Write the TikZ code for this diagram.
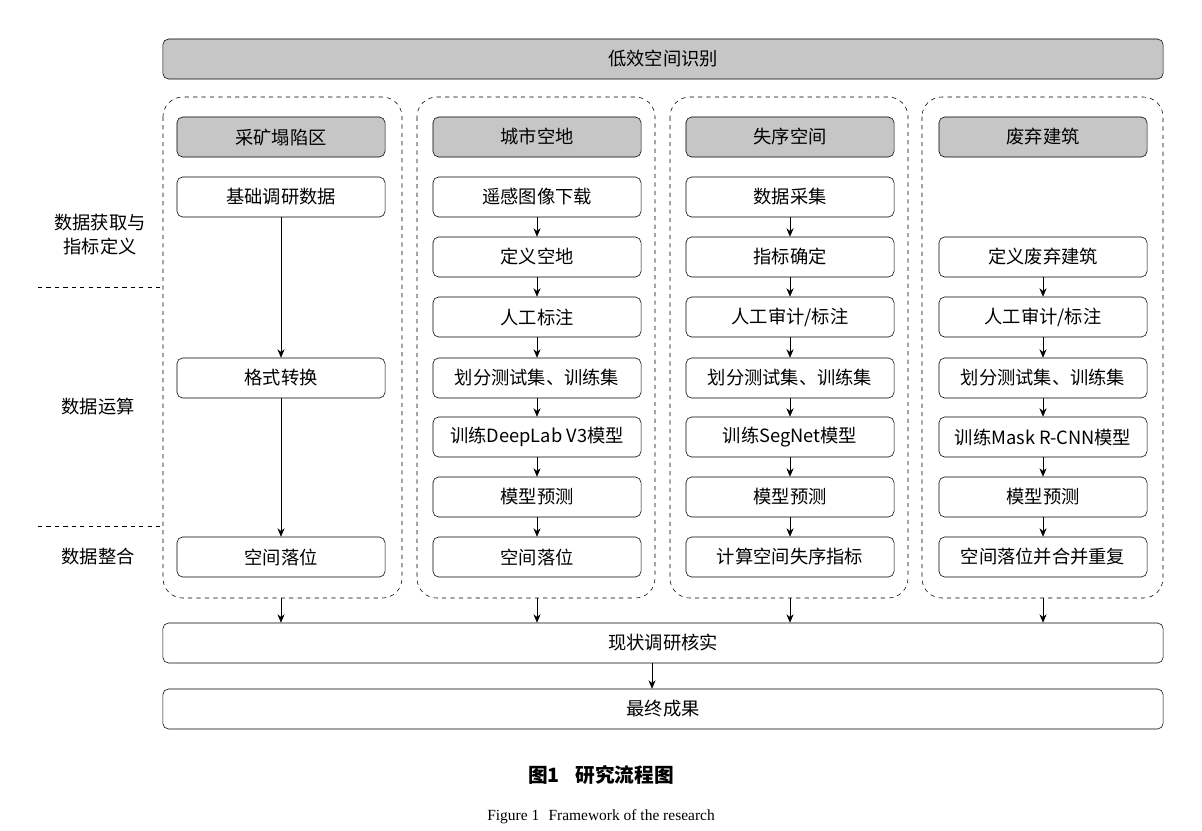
\documentclass[tikz,border=0pt]{standalone}
\usepackage{fontspec}
\setmainfont{Liberation Serif}
\newfontfamily\cjk{Noto Sans CJK SC}
\usetikzlibrary{arrows.meta}
\begin{document}
\begin{tikzpicture}
    [x=0.025cm, y=-0.025cm,
     box/.style={draw, rounded corners=4pt, minimum width=5.2cm, minimum height=1cm, inner sep=1pt, font=\cjk\fontsize{13}{15}\selectfont},
     head/.style={box, fill=gray!45},
     wide/.style={box, minimum width=25cm},
     col/.style={draw, dashed, rounded corners=14pt},
     side/.style={align=center, font=\cjk\fontsize{13}{17}\selectfont},
     arr/.style={-{Stealth[length=6pt,width=5pt]}}]
    \useasboundingbox (0,0) rectangle (1202,830);

    \node[wide, fill=gray!45] (top) at (663,59) {低效空间识别};

    % columns
    \draw[col] (163,97) rectangle (402,598);
    \draw[col] (417,97) rectangle (655,598);
    \draw[col] (670,97) rectangle (908,598);
    \draw[col] (922,97) rectangle (1163,598);
    \coordinate (c1) at (281,598);
    \coordinate (c2) at (537,598);
    \coordinate (c3) at (790,598);
    \coordinate (c4) at (1043,598);

    % column 1
    \node[head] (h1) at (281,137) {采矿塌陷区};
    \node[box] (a1) at (281,197) {基础调研数据};
    \node[box] (a2) at (281,378) {格式转换};
    \node[box] (a3) at (281,557) {空间落位};

    % column 2
    \node[head] (h2) at (537,137) {城市空地};
    \node[box] (b1) at (537,197) {遥感图像下载};
    \node[box] (b2) at (537,257) {定义空地};
    \node[box] (b3) at (537,317) {人工标注};
    \node[box] (b4) at (537,378) {划分测试集、训练集};
    \node[box] (b5) at (537,437) {训练DeepLab V3模型};
    \node[box] (b6) at (537,497) {模型预测};
    \node[box] (b7) at (537,557) {空间落位};

    % column 3
    \node[head] (h3) at (790,137) {失序空间};
    \node[box] (s1) at (790,197) {数据采集};
    \node[box] (s2) at (790,257) {指标确定};
    \node[box] (s3) at (790,317) {人工审计/标注};
    \node[box] (s4) at (790,378) {划分测试集、训练集};
    \node[box] (s5) at (790,437) {训练SegNet模型};
    \node[box] (s6) at (790,497) {模型预测};
    \node[box] (s7) at (790,557) {计算空间失序指标};

    % column 4
    \node[head] (h4) at (1043,137) {废弃建筑};
    \node[box] (d2) at (1043,257) {定义废弃建筑};
    \node[box] (d3) at (1043,317) {人工审计/标注};
    \node[box] (d4) at (1043,378) {划分测试集、训练集};
    \node[box] (d5) at (1043,437) {训练Mask R-CNN模型};
    \node[box] (d6) at (1043,497) {模型预测};
    \node[box] (d7) at (1043,557) {空间落位并合并重复};

    \node[wide] (chk) at (663,643) {现状调研核实};
    \node[wide] (res) at (663,709) {最终成果};

    % left labels
    \node[side] (l1) at (100,235) {数据获取与\\指标定义};
    \node[side] (l2) at (98,407) {数据运算};
    \node[side] (l3) at (98,557) {数据整合};
    \draw[dashed] (38,287) -- (163,287);
    \draw[dashed] (38,526) -- (163,526);

    % arrows
    \draw[arr] (a1) -- (a2);
    \draw[arr] (a2) -- (a3);
    \foreach \p in {b,s}{
      \foreach \i [evaluate=\i as \j using int(\i+1)] in {1,...,6}
        \draw[arr] (\p\i) -- (\p\j);
    }
    \foreach \i [evaluate=\i as \j using int(\i+1)] in {2,...,6}
      \draw[arr] (d\i) -- (d\j);
    \foreach \c in {c1,c2,c3,c4}
      \draw[arr] (\c) -- (\c |- chk.north);
    \draw[arr] (chk.south -| 652,0) -- (res.north -| 652,0);

    % caption
    \node[font=\cjk\bfseries\fontsize{14}{16}\selectfont] (cap) at (601,775) {图1\hspace{0.8em}研究流程图};
    \node[font=\fontsize{11}{13}\selectfont] (capen) at (601,817) {Figure 1\hspace{0.6em}Framework of the research};
\end{tikzpicture}
\end{document}
